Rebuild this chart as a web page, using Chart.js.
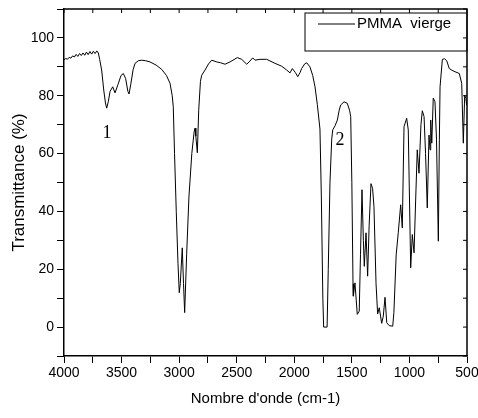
<!DOCTYPE html>
<html>
<head>
<meta charset="utf-8">
<script src="https://cdn.jsdelivr.net/npm/chart.js@4.4.1/dist/chart.umd.min.js"></script>
<style>
  html, body { margin: 0; padding: 0; background: #fff; }
  #wrap { position: relative; width: 478px; height: 418px; }
</style>
</head>
<body>
<div id="wrap"><canvas id="ftirChart"></canvas></div>
<script>
// FTIR spectrum of virgin PMMA
const wavenumbers = [
  4000, 3985, 3970, 3955, 3940, 3925, 3910, 3895, 3880, 3865, 3850, 3835, 3820, 3805,
  3790, 3775, 3760, 3745, 3730, 3715, 3702, 3690, 3673, 3655, 3640, 3629, 3615, 3600,
  3577, 3557, 3530, 3505, 3485, 3465, 3445, 3435, 3420, 3400, 3383, 3355, 3325, 3290,
  3253, 3200, 3151, 3110, 3079, 3060, 3051, 3040, 3025, 3010, 2999, 2990, 2973, 2962,
  2952, 2935, 2915, 2890, 2870, 2862, 2855, 2842, 2830, 2815, 2804, 2775, 2745, 2717,
  2674, 2639, 2602, 2558, 2495, 2457, 2413, 2385, 2361, 2341, 2298, 2240, 2167, 2109,
  2066, 2037, 2017, 1990, 1970, 1950, 1936, 1910, 1892, 1864, 1840, 1820, 1800, 1777,
  1765, 1752, 1745, 1715, 1705, 1690, 1675, 1666, 1646, 1626, 1610, 1597, 1568, 1540,
  1520, 1510, 1500, 1490, 1487, 1473, 1453, 1436, 1425, 1412, 1400, 1392, 1377, 1363,
  1350, 1334, 1320, 1308, 1290, 1276, 1262, 1241, 1227, 1212, 1197, 1175, 1145, 1135,
  1115, 1097, 1076, 1062, 1047, 1024, 1010, 989, 975, 960, 945, 932, 917, 900,
  888, 873, 860, 845, 830, 821, 815, 806, 793, 778, 765, 749, 740, 734,
  714, 695, 676, 654, 630, 604, 567, 546, 532, 520, 510, 503, 500
];
const transmittance = [
  92.4, 92.9, 92.6, 93.3, 93.0, 93.8, 93.4, 94.3, 93.6, 94.6, 93.9, 94.8, 94.0, 95.1,
  94.2, 95.3, 94.4, 95.4, 94.6, 95.5, 94.8, 92.5, 88.9, 82.0, 77.5, 75.7, 78.0, 81.5,
  83.1, 81.0, 84.0, 87.0, 87.7, 86.0, 81.5, 80.6, 84.0, 89.0, 91.2, 92.1, 92.3, 92.1,
  91.7, 90.6, 89.1, 87.0, 84.3, 80.0, 76.2, 60.0, 40.0, 22.0, 11.9, 15.0, 27.4, 15.0,
  5.0, 25.0, 45.0, 60.0, 67.5, 68.8, 66.0, 60.3, 75.0, 85.0, 87.1, 88.9, 91.0, 92.3,
  91.7, 91.4, 90.9, 91.7, 93.2, 92.6, 90.9, 92.0, 93.1, 92.3, 92.6, 92.6, 91.2, 90.2,
  88.9, 87.9, 89.4, 88.0, 86.6, 88.0, 89.4, 91.0, 91.4, 90.0, 87.0, 83.1, 77.0, 68.5,
  45.0, 10.0, 0.0, 0.0, 20.0, 50.0, 65.0, 68.2, 69.6, 71.6, 75.0, 76.8, 77.9, 77.4,
  75.0, 72.8, 50.0, 15.0, 10.7, 15.3, 4.4, 5.5, 25.0, 47.5, 30.0, 21.0, 32.6, 17.6,
  35.0, 49.6, 48.0, 41.7, 15.0, 4.5, 6.7, 1.3, 3.8, 10.3, 1.5, 0.5, 0.3, 5.0,
  25.0, 32.6, 42.3, 34.3, 69.3, 72.2, 68.2, 20.5, 32.0, 25.7, 45.0, 61.3, 53.2, 70.0,
  74.8, 72.8, 60.0, 41.2, 66.4, 61.3, 71.6, 63.6, 79.2, 77.9, 65.0, 29.7, 65.0, 83.1,
  92.6, 92.8, 92.1, 89.4, 88.8, 88.3, 87.7, 84.3, 63.6, 80.2, 79.0, 76.8, 78.0
];
const xLabelTicks = [4000, 3500, 3000, 2500, 2000, 1500, 1000, 500];
const yLabelTicks = [0, 20, 40, 60, 80, 100];
const peakNames = ["1", "2"];
const peakX = [3627, 1603];
const peakY = [67, 64.5];
const seriesName = "PMMA  vierge";

const tickFont = { family: '"Liberation Sans Narrow", "Arial Narrow", Arial, sans-serif', size: 14 };
const titleFont = { family: 'Arial, "Liberation Sans", sans-serif', size: 15 };

const points = wavenumbers.map((w, i) => ({ x: w, y: transmittance[i] }));

const framePlugin = {
  id: "frame",
  afterDraw(chart) {
    const { ctx, chartArea, scales } = chart;
    const { left, right, top, bottom } = chartArea;
    ctx.save();
    ctx.strokeStyle = "#000";
    ctx.lineWidth = 1.5;
    ctx.beginPath();
    ctx.moveTo(left, top);
    ctx.lineTo(right, top);
    ctx.lineTo(right, bottom);
    ctx.stroke();

    // inward ticks on top and right
    ctx.lineWidth = 1;
    ctx.beginPath();
    scales.x.ticks.forEach((t) => {
      const px = scales.x.getPixelForValue(t.value);
      ctx.moveTo(px, top);
      ctx.lineTo(px, top + 4);
    });
    scales.y.ticks.forEach((t) => {
      const py = scales.y.getPixelForValue(t.value);
      ctx.moveTo(right, py);
      ctx.lineTo(right - 4, py);
    });
    ctx.stroke();

    // legend box
    const bx = right - 162, by = top + 4, bw = 162, bh = 38;
    ctx.lineWidth = 1;
    ctx.strokeRect(bx, by, bw, bh);
    ctx.beginPath();
    ctx.moveTo(bx + 13, by + 11);
    ctx.lineTo(bx + 50, by + 11);
    ctx.stroke();
    ctx.fillStyle = "#000";
    ctx.font = "15px Arial, 'Liberation Sans', sans-serif";
    ctx.textBaseline = "middle";
    ctx.textAlign = "left";
    ctx.fillText(seriesName, bx + 52, by + 11);

    // band labels
    ctx.font = "18px 'Liberation Serif', 'Times New Roman', serif";
    ctx.textAlign = "center";
    peakNames.forEach((n, i) => {
      ctx.fillText(n, scales.x.getPixelForValue(peakX[i]), scales.y.getPixelForValue(peakY[i]));
    });
    ctx.restore();
  },
};

new Chart(document.getElementById("ftirChart"), {
  type: "scatter",
  data: {
    datasets: [
      {
        label: seriesName,
        data: points,
        showLine: true,
        borderColor: "#000",
        borderWidth: 1,
        pointRadius: 0,
        tension: 0,
      },
    ],
  },
  options: {
    responsive: true,
    maintainAspectRatio: false,
    animation: false,
    layout: { padding: { top: 9, right: 11, left: 0, bottom: 0 } },
    plugins: {
      legend: { display: false },
      tooltip: { enabled: false },
    },
    scales: {
      x: {
        type: "linear",
        reverse: true,
        min: 500,
        max: 4000,
        afterFit: (s) => {
          s.height = 62;
          s.paddingLeft = 0;
          s.paddingRight = 0;
        },
        ticks: {
          stepSize: 250,
          autoSkip: false,
          maxRotation: 0,
          padding: 2,
          color: "#000",
          font: tickFont,
          callback: (v) => (xLabelTicks.includes(v) ? String(v) : ""),
        },
        grid: { drawOnChartArea: false, drawTicks: true, tickLength: 7, color: "#000" },
        border: { display: true, color: "#000", width: 1.5 },
        title: {
          display: true,
          text: "Nombre d'onde (cm-1)",
          color: "#000",
          font: titleFont,
          padding: { top: 0, bottom: 10 },
        },
      },
      y: {
        min: -10,
        max: 110,
        afterFit: (s) => {
          s.width = 64;
          s.paddingTop = 0;
          s.paddingBottom = 0;
        },
        ticks: {
          stepSize: 10,
          autoSkip: false,
          padding: 3,
          color: "#000",
          font: tickFont,
          callback: (v) => (yLabelTicks.includes(v) ? String(v) : ""),
        },
        grid: { drawOnChartArea: false, drawTicks: true, tickLength: 7, color: "#000" },
        border: { display: true, color: "#000", width: 1.5 },
        title: {
          display: true,
          text: "Transmittance (%)",
          color: "#000",
          font: { family: titleFont.family, size: 17 },
          padding: { top: 9, bottom: 0 },
        },
      },
    },
  },
  plugins: [framePlugin],
});
</script>
</body>
</html>
